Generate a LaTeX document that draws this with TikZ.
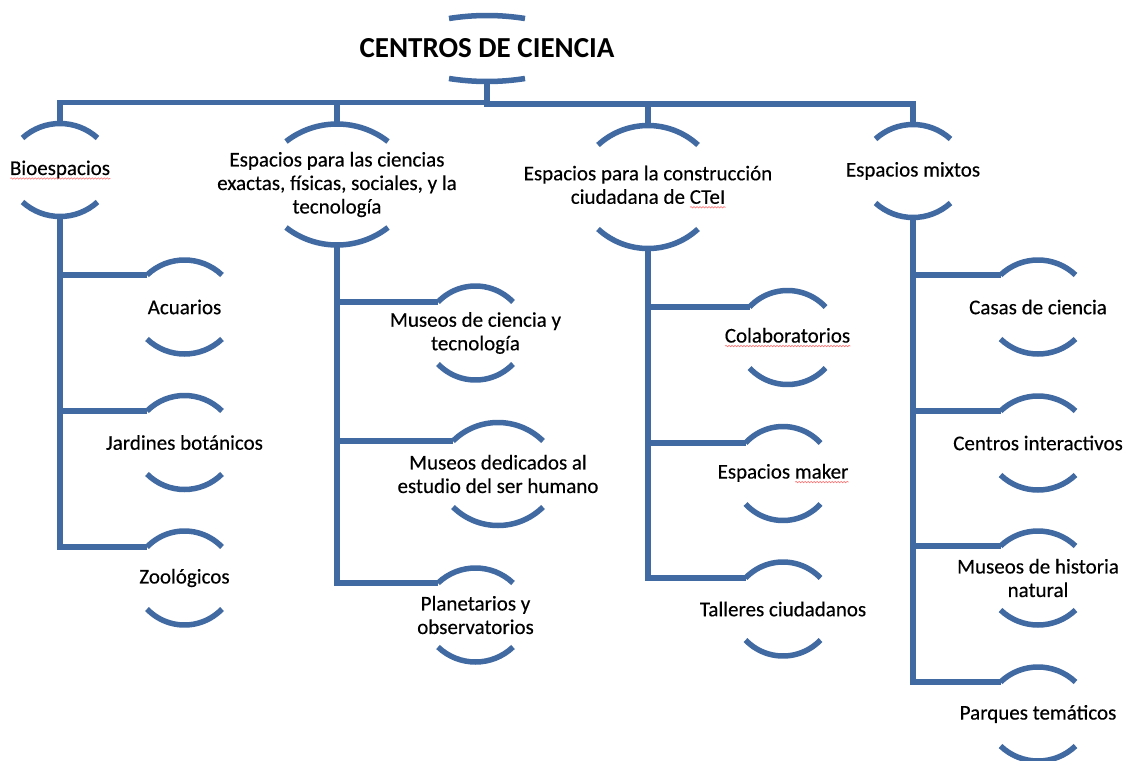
\documentclass[tikz,border=0pt]{standalone}
\usepackage{fontspec}
\setmainfont{Carlito}
\newfontfamily\bodyfont{Carlito}[FakeBold=0.35]
\usetikzlibrary{decorations.pathmorphing}
\definecolor{lineblue}{RGB}{65,106,162}
\newsavebox\spellbox
\newcommand\spellmark[1]{\sbox\spellbox{#1}\rlap{\tikz[baseline=0pt]\draw[red!55,line width=0.6pt,decorate,decoration={snake,amplitude=0.7pt,segment length=3pt}] (0pt,-3.5pt) -- (\the\wd\spellbox,-3.5pt);}\usebox\spellbox}
% #1 name, #2 cx, #3 cy (downwards), #4 half chord, #5 apex offset, #6 end offset, #7 text, #8 extra text style
\newcommand\bubblenode[8]{%
  \node[txt,#8] (#1) at (#2,-#3) {#7};
  \coordinate (#1-n) at (#2,-#3+#5);
  \coordinate (#1-s) at (#2,-#3-#5);
  \coordinate (#1-tl) at (#2-#4,-#3+#6);
  \coordinate (#1-bl) at (#2-#4,-#3-#6);
  \pgfmathsetmacro\arcR{(#4*#4+(#5-#6)*(#5-#6))/(2*(#5-#6))}%
  \pgfmathsetmacro\arcT{asin(#4/\arcR)}%
  \draw[ln] (#1-tl) arc[start angle=90+\arcT, end angle=90-\arcT, radius=\arcR pt];
  \draw[ln] (#1-bl) arc[start angle=270-\arcT, end angle=270+\arcT, radius=\arcR pt];
}
\begin{document}
\begin{tikzpicture}[x=1pt,y=1pt,
  ln/.style={draw=lineblue,line width=5.5pt},
  txt/.style={font=\bodyfont\fontsize{21}{23.5}\selectfont,align=center,inner sep=0pt,text=black},
  ttl/.style={font=\normalfont\fontsize{29}{34}\selectfont\bfseries}]
\fill[white] (0,0) rectangle (1131,-760);
\useasboundingbox (0,0) rectangle (1131,-760);

% title
\bubblenode{title}{487}{48.5}{38}{33}{30}{CENTROS DE CIENCIA}{ttl}

% level 1
\bubblenode{bio}{60}{170}{37.5}{46.5}{32}{\spellmark{Bioespacios}}{}
\bubblenode{cie}{337}{184.5}{51}{60.5}{43}{Espacios para las ciencias\\exactas, físicas, sociales, y la\\tecnología}{}
\bubblenode{con}{648}{187}{50}{61.5}{42}{Espacios para la construcción\\ciudadana de \spellmark{CTeI}}{}
\bubblenode{mix}{913}{171}{37.5}{46.5}{32}{Espacios mixtos}{}

% level 2
\bubblenode{acu}{184.5}{307}{37.5}{47}{32}{Acuarios}{}
\bubblenode{jar}{184.5}{442.5}{37.5}{47}{31.5}{Jardines botánicos}{}
\bubblenode{zoo}{184.5}{578}{37.5}{47}{31}{Zoológicos}{}

\bubblenode{mct}{475.5}{333}{37.5}{47}{31}{Museos de ciencia y\\tecnología}{}
\bubblenode{mded}{498}{474}{45}{51.5}{33}{Museos dedicados al\\estudio del ser humano}{}
\bubblenode{pla}{475.5}{615}{37.5}{47}{32}{Planetarios y\\observatorios}{}

\bubblenode{col}{787.5}{337.5}{38}{47}{30.5}{\spellmark{Colaboratorios}}{}
\bubblenode{mak}{783}{473.5}{37.5}{47}{30.5}{Espacios \spellmark{maker}}{}
\bubblenode{tal}{783}{609}{37.5}{47}{31}{Talleres ciudadanos}{}

\bubblenode{cas}{1038}{307}{37.5}{47}{32}{Casas de ciencia}{}
\bubblenode{cen}{1038}{443}{37.5}{47}{32}{Centros interactivos}{}
\bubblenode{mus}{1038}{578}{37.5}{47}{32}{Museos de historia\\natural}{}
\bubblenode{par}{1038}{714}{37.5}{47}{32}{Parques temáticos}{}

% bus
\coordinate (busL) at (487,-102.5);
\coordinate (busR) at (487,-104);
\draw[ln] (bio-n) |- (busL) -- (title-s);
\draw[ln] (cie-n) |- (busL);
\draw[ln] (mix-n) |- (busR) -- (title-s);
\draw[ln] (con-n) |- (busR);

% branches
\foreach \p/\c in {bio/acu,bio/jar,bio/zoo,cie/mct,cie/mded,cie/pla,con/col,con/mak,con/tal,mix/cas,mix/cen,mix/mus,mix/par}
  \draw[ln] (\p-s) |- (\c-tl);
\end{tikzpicture}
\end{document}
